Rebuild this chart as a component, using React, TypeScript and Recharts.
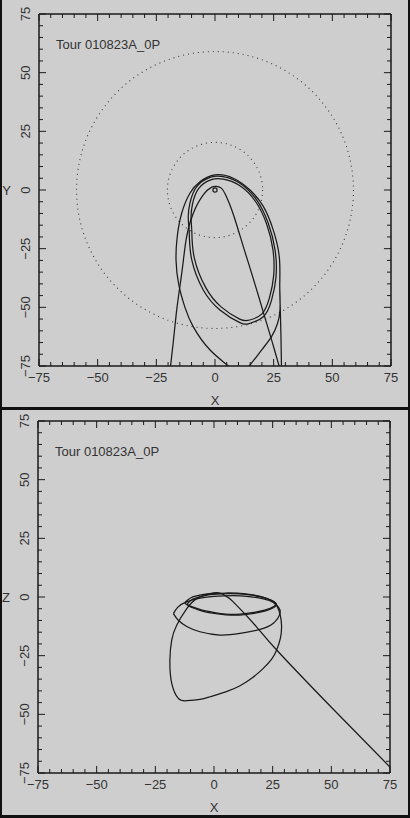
import React from 'react';
import { ComposedChart, Line, XAxis, YAxis, ReferenceArea, ReferenceLine } from 'recharts';

const TITLE = 'Tour 010823A_0P';

const AXIS_TICKS = [
  -75, -70, -65, -60, -55, -50, -45, -40, -35, -30, -25, -20, -15, -10, -5, 0,
  5, 10, 15, 20, 25, 30, 35, 40, 45, 50, 55, 60, 65, 70, 75,
];
const LABELLED_TICKS = [-75, -50, -25, 0, 25, 50, 75];
const DOMAIN: [number, number] = [-75, 75];

// Titan and Iapetus orbits, and Saturn itself (Saturn radii)
const ORBIT_RADII = [20.3, 59];
const SATURN_RADIUS = 0.9;

// ---- X-Y projection ----
const XY_FLYBY_X = [-19.4, -17.8, -16.3, -14.8, -13.6, -12.1, -9.3, -5.0, -1.4, 0.7, 2.8, 4.5, 6.2, 8.0, 10.2, 12.5, 15.0, 18.2, 21.3, 24.3, 27.3, 28.4];
const XY_FLYBY_Y = [-79, -65, -51, -40, -31, -20, -10, -2.1, 1.2, 1.5, 0.7, -2, -6, -11, -18, -25.5, -33.5, -44, -54.5, -64.5, -75, -79];

const XY_BIG_X = [28.4, 28.1, 27.8, 27.6, 27.4, 24.8, 20.6, 14.9, 7.8, 0, -6.4, -10.7, -14.2, -16.1, -16.6, -15.4, -12.8, -9.3, -2.1, 5.7, 10.2, 14.6, 20.0, 24.1, 26.6, 27.7, 27.6];
const XY_BIG_Y = [-79, -62, -50, -40, -28.5, -17, -7, 0, 5, 6.4, 3.5, -1.4, -9.9, -19.9, -30, -40.5, -50, -58.2, -68.2, -75, -78.5, -75, -68, -62.5, -57, -51, -42];

const XY_LOOP_A_X = [-11.0, -9.9, -5.0, 2.1, 10.6, 14.9, 20.6, 24.1, 26.0, 25.6, 22.7, 17.8, 10.6, 3.5, -2.1, -7.8, -10.7, -11.4, -11.0];
const XY_LOOP_A_Y = [-17, -29.8, -42.6, -51.1, -56.5, -56.8, -54, -46.9, -37, -25.6, -14.2, -4.3, 2.9, 5.7, 5.4, 1.4, -5.7, -11.4, -17];

const XY_LOOP_B_X = [-9.9, -8.8, -4.0, 2.6, 10.5, 14.8, 20.0, 23.2, 25.0, 24.7, 22.0, 17.2, 10.3, 3.5, -1.8, -7.0, -9.6, -10.2, -9.9];
const XY_LOOP_B_Y = [-17, -29, -41.5, -49.8, -55, -55.4, -52.8, -46, -36.5, -25.5, -14.5, -4.8, 2.0, 4.6, 4.3, 0.6, -6.0, -11.6, -17];

// ---- X-Z projection ----
const XZ_MAIN_X = [76, 50, 26.7, 18.2, 8.2, 5.0, 2.5, -1.7, -7.4, -11.6, -15.9, -18.0, -18.8, -18.0, -15.2, -11.6, -6, -1.7, 5, 11.1, 16.5, 21, 24.5, 26.7, 28.3, 28.8, 28.3, 27, 25];
const XZ_MAIN_Z = [-73.5, -47, -22.6, -12.8, -2.1, 0.4, 1.7, 1.4, -0.7, -5, -12, -18.3, -26.8, -36.8, -43.2, -44.2, -43.6, -42.5, -40.4, -37.8, -34.3, -30.4, -26.6, -22.6, -17.5, -12.5, -8, -4.2, -1.8];

const XZ_UPPER_A_X = [-12.4, -10, -5, 0, 5, 10, 15, 20, 24, 26.3, 25.3, 22, 17, 11, 5, 0, -5, -9, -11.5, -12.4];
const XZ_UPPER_A_Z = [-2.5, -0.4, 1.0, 1.5, 1.7, 1.6, 1.1, 0.2, -1.2, -2.7, -4.2, -5.5, -6.6, -7.3, -7.3, -6.6, -5.6, -4.3, -3.3, -2.5];

const XZ_UPPER_B_X = [-11.4, -9, -4, 1, 6, 11, 16, 21, 24.8, 26.6, 25.5, 22, 17, 11, 5, 0, -5, -8.5, -10.7, -11.4];
const XZ_UPPER_B_Z = [-2.9, -0.9, 0.6, 1.2, 1.4, 1.3, 0.8, -0.2, -1.6, -3.0, -4.5, -5.9, -7.0, -7.7, -7.6, -7.0, -6.0, -4.8, -3.8, -2.9];

const XZ_LOWER_X = [-17.3, -15.5, -12, -6, 0, 8, 15, 21, 25.3, 27.6, 28.1, 25.3, 19.6, 11.1, 2.5, -6, -11.6, -15.3, -17.3];
const XZ_LOWER_Z = [-7.1, -4.4, -2.2, -0.5, 0.3, 0.6, 0.2, -0.8, -2.3, -4.5, -7.1, -11.2, -13.8, -15.5, -16.2, -14.8, -12.6, -9.8, -7.1];

const pair = (xs: number[], ys: number[]) => xs.map((x, i) => ({ x, v: ys[i] }));

const XY_PATHS = [
  pair(XY_FLYBY_X, XY_FLYBY_Y),
  pair(XY_BIG_X, XY_BIG_Y),
  pair(XY_LOOP_A_X, XY_LOOP_A_Y),
  pair(XY_LOOP_B_X, XY_LOOP_B_Y),
];
const XZ_PATHS = [
  pair(XZ_MAIN_X, XZ_MAIN_Z),
  pair(XZ_UPPER_A_X, XZ_UPPER_A_Z),
  pair(XZ_UPPER_B_X, XZ_UPPER_B_Z),
  pair(XZ_LOWER_X, XZ_LOWER_Z),
];

const BG = '#cecece';
const INK = '#1a1a1a';
const TEXT = '#333';
const FONT = '"Liberation Sans", Arial, sans-serif';
const PLOT = 352;

// tick mark lengths, in axis units (long every 25, short every 5)
const MAJOR_LEN = 3;
const MINOR_LEN = 1.7;

const fmt = (v: number) => (v < 0 ? `\u2212${-v}` : `${v}`);
const lo = DOMAIN[0];
const hi = DOMAIN[1];

const NoTick = () => <g />;

const BottomLabel = ({ x, y, payload }: any) =>
  LABELLED_TICKS.includes(payload.value) ? (
    <text x={x} y={y + 16} textAnchor="middle" fontSize={13} fill={TEXT} fontFamily={FONT}>
      {fmt(payload.value)}
    </text>
  ) : (
    <g />
  );

const LeftLabel = ({ x, y, payload }: any) => {
  const tx = x - 9;
  return LABELLED_TICKS.includes(payload.value) ? (
    <text x={tx} y={y} transform={`rotate(-90 ${tx} ${y})`} textAnchor="middle" fontSize={13} fill={TEXT} fontFamily={FONT}>
      {fmt(payload.value)}
    </text>
  ) : (
    <g />
  );
};

const ring = (dotted: boolean) => (p: any) => (
  <ellipse
    cx={p.x + p.width / 2}
    cy={p.y + p.height / 2}
    rx={Math.abs(p.width) / 2}
    ry={Math.abs(p.height) / 2}
    fill="none"
    stroke={dotted ? '#3a3a3a' : INK}
    strokeWidth={dotted ? 1.1 : 1.2}
    strokeDasharray={dotted ? '1 4' : undefined}
  />
);

const frame = { stroke: INK, strokeWidth: 1.5 };
const common = {
  type: 'number' as const,
  domain: DOMAIN,
  interval: 0 as const,
  allowDataOverflow: true,
};

// inward tick marks on all four sides of the frame
const tickMarks = () =>
  AXIS_TICKS.flatMap((v) => {
    const len = LABELLED_TICKS.includes(v) ? MAJOR_LEN : MINOR_LEN;
    const segs = [
      [{ x: v, y: lo }, { x: v, y: lo + len }],
      [{ x: v, y: hi }, { x: v, y: hi - len }],
      [{ x: lo, y: v }, { x: lo + len, y: v }],
      [{ x: hi, y: v }, { x: hi - len, y: v }],
    ];
    return segs.map((s, k) => (
      <ReferenceLine
        key={`tick-${v}-${k}`}
        xAxisId="b"
        yAxisId="l"
        segment={s}
        stroke={INK}
        strokeWidth={1}
        ifOverflow="visible"
      />
    ));
  });

type PanelProps = {
  top: number;
  left: number;
  axisName: string;
  paths: { x: number; v: number }[][];
  rings: boolean;
};

function Panel({ top, left, axisName, paths, rings }: PanelProps) {
  const margin = { top: 13, bottom: 42, left: left - 1, right: 410 - left - PLOT - 1 };
  return (
    <div style={{ position: 'absolute', left: 0, top }}>
      <ComposedChart width={410} height={409} margin={margin}>
        <XAxis
          xAxisId="b"
          dataKey="x"
          {...common}
          ticks={AXIS_TICKS}
          height={1}
          tickSize={0}
          tickMargin={0}
          tickLine={false}
          tick={BottomLabel}
          axisLine={frame}
          label={{ value: 'X', position: 'bottom', offset: 29, fill: TEXT, fontSize: 13, fontFamily: FONT }}
        />
        <XAxis
          xAxisId="t"
          orientation="top"
          {...common}
          ticks={LABELLED_TICKS}
          height={1}
          tickSize={0}
          tickMargin={0}
          tickLine={false}
          tick={NoTick}
          axisLine={frame}
        />
        <YAxis
          yAxisId="l"
          {...common}
          ticks={AXIS_TICKS}
          width={1}
          tickSize={0}
          tickMargin={0}
          tickLine={false}
          tick={LeftLabel}
          axisLine={frame}
          label={{ value: axisName, position: 'left', offset: 27, fill: TEXT, fontSize: 13, fontFamily: FONT }}
        />
        <YAxis
          yAxisId="r"
          orientation="right"
          {...common}
          ticks={LABELLED_TICKS}
          width={1}
          tickSize={0}
          tickMargin={0}
          tickLine={false}
          tick={NoTick}
          axisLine={frame}
        />
        {tickMarks()}
        {rings &&
          ORBIT_RADII.map((r) => (
            <ReferenceArea key={r} xAxisId="b" yAxisId="l" x1={-r} x2={r} y1={-r} y2={r} shape={ring(true)} />
          ))}
        {rings && (
          <ReferenceArea
            xAxisId="b"
            yAxisId="l"
            x1={-SATURN_RADIUS}
            x2={SATURN_RADIUS}
            y1={-SATURN_RADIUS}
            y2={SATURN_RADIUS}
            shape={ring(false)}
          />
        )}
        {paths.map((d, i) => (
          <Line
            key={i}
            xAxisId="b"
            yAxisId="l"
            data={d}
            dataKey="v"
            type="natural"
            stroke={INK}
            strokeWidth={1.25}
            dot={false}
            activeDot={false}
            isAnimationActive={false}
          />
        ))}
      </ComposedChart>
      <svg width={410} height={60} style={{ position: 'absolute', left: 0, top: 0, pointerEvents: 'none' }}>
        <text x={left + 17} y={49} fontSize={13} fill={TEXT} fontFamily={FONT}>
          {TITLE}
        </text>
      </svg>
    </div>
  );
}

export default function App() {
  return (
    <div style={{ position: 'absolute', left: 0, top: 0, width: 410, height: 818, background: BG, overflow: 'hidden' }}>
      <Panel top={0} left={39} axisName="Y" paths={XY_PATHS} rings />
      <Panel top={407} left={38} axisName="Z" paths={XZ_PATHS} rings={false} />
      <div style={{ position: 'absolute', left: 0, top: 407, width: 410, height: 3, background: '#111' }} />
      <div style={{ position: 'absolute', left: 0, top: 0, width: 2, height: 818, background: '#111' }} />
      <div style={{ position: 'absolute', left: 408, top: 0, width: 2, height: 818, background: '#111' }} />
      <div style={{ position: 'absolute', left: 0, top: 815, width: 410, height: 3, background: '#111' }} />
    </div>
  );
}
